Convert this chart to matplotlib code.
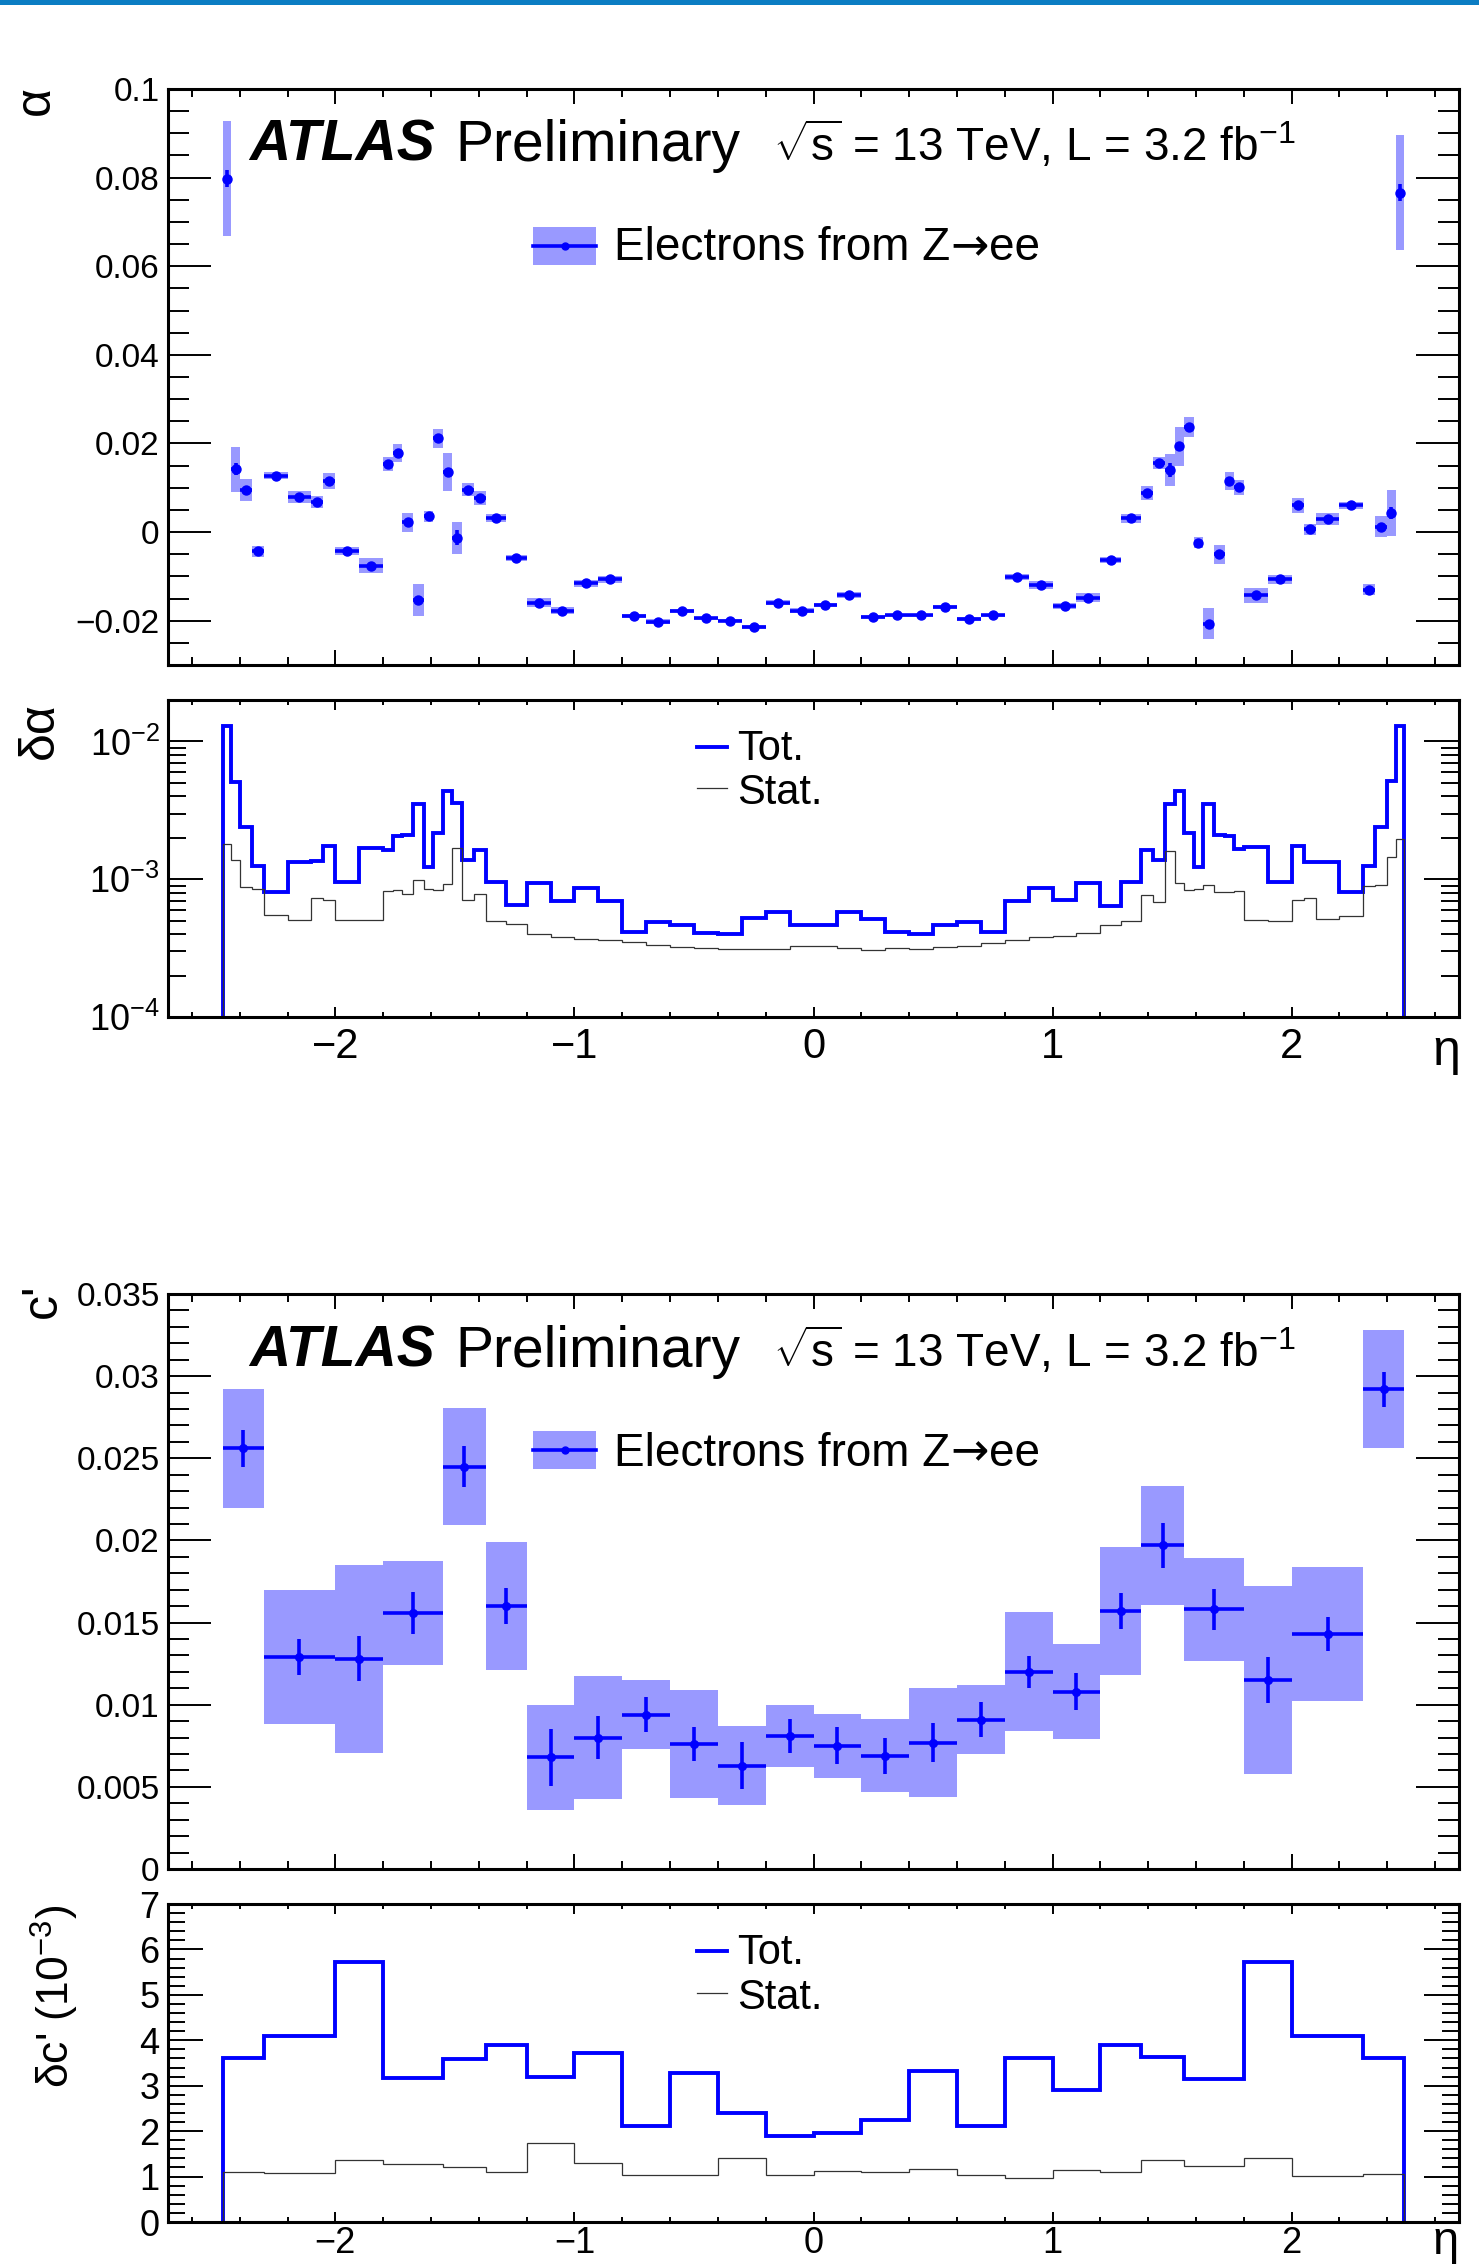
import numpy as np
import matplotlib
matplotlib.use("Agg")
import matplotlib.pyplot as plt
from matplotlib.patches import Rectangle
from matplotlib.ticker import MultipleLocator, LogLocator, NullFormatter, FuncFormatter

plt.rcParams['font.family'] = ['Liberation Sans', 'DejaVu Sans']
plt.rcParams['mathtext.fontset'] = 'custom'
plt.rcParams['mathtext.rm'] = 'Liberation Sans'
plt.rcParams['mathtext.it'] = 'Liberation Sans:italic'
plt.rcParams['mathtext.bf'] = 'Liberation Sans:bold'

W, H = 1479, 2268

# ---- alpha: 68 eta bins ----
alpha_edges = [-2.47, -2.435, -2.4, -2.35, -2.3, -2.2, -2.1, -2.05, -2.0, -1.9, -1.8,
               -1.76, -1.72, -1.675, -1.63, -1.59, -1.55, -1.51, -1.47, -1.42, -1.37,
               -1.285, -1.2, -1.1, -1.0, -0.9, -0.8, -0.7, -0.6, -0.5, -0.4, -0.3,
               -0.2, -0.1, 0.0, 0.1, 0.2, 0.3, 0.4, 0.5, 0.6, 0.7, 0.8, 0.9, 1.0,
               1.1, 1.2, 1.285, 1.37, 1.42, 1.47, 1.51, 1.55, 1.59, 1.63, 1.675,
               1.72, 1.76, 1.8, 1.9, 2.0, 2.05, 2.1, 2.2, 2.3, 2.35, 2.4, 2.435, 2.47]

alpha = [0.0798, 0.0142, 0.0095, -0.0043, 0.0127, 0.0079, 0.0067, 0.0115, -0.0043,
         -0.0076, 0.0154, 0.0179, 0.0022, -0.0153, 0.0036, 0.0212, 0.0136, -0.0013,
         0.0096, 0.0077, 0.0032, -0.0058, -0.0159, -0.0177, -0.0116, -0.0107, -0.0189,
         -0.0202, -0.0178, -0.0195, -0.0200, -0.0214, -0.0159, -0.0177, -0.0165,
         -0.0142, -0.0192, -0.0188, -0.0188, -0.0170, -0.0196, -0.0188, -0.0101,
         -0.0120, -0.0167, -0.0148, -0.0063, 0.0031, 0.0088, 0.0155, 0.0140, 0.0194,
         0.0237, -0.0024, -0.0207, -0.0050, 0.0116, 0.0101, -0.0143, -0.0107, 0.0060,
         0.0006, 0.0030, 0.0060, -0.0130, 0.0012, 0.0043, 0.0766]

dalpha_tot = [1.293e-2, 5.06e-3, 2.38e-3, 1.24e-3, 8.02e-4, 1.33e-3, 1.36e-3, 1.73e-3,
              9.48e-4, 1.68e-3, 1.64e-3, 2.05e-3, 2.10e-3, 3.54e-3, 1.22e-3, 2.17e-3,
              4.35e-3, 3.58e-3, 1.39e-3, 1.62e-3, 9.48e-4, 6.53e-4, 9.38e-4, 6.98e-4,
              8.63e-4, 6.90e-4, 4.17e-4, 4.88e-4, 4.62e-4, 4.06e-4, 4.02e-4, 5.19e-4,
              5.74e-4, 4.69e-4, 4.69e-4, 5.74e-4, 5.16e-4, 4.13e-4, 4.02e-4, 4.64e-4,
              4.86e-4, 4.11e-4, 6.90e-4, 8.63e-4, 7.10e-4, 9.38e-4, 6.35e-4, 9.48e-4,
              1.62e-3, 1.37e-3, 3.54e-3, 4.40e-3, 2.17e-3, 1.22e-3, 3.54e-3, 2.10e-3,
              2.05e-3, 1.67e-3, 1.70e-3, 9.48e-4, 1.73e-3, 1.33e-3, 1.33e-3, 8.02e-4,
              1.25e-3, 2.38e-3, 5.14e-3, 1.293e-2]

dalpha_stat = [1.81e-3, 1.39e-3, 8.72e-4, 8.53e-4, 5.52e-4, 5.07e-4, 7.26e-4, 7.06e-4,
               5.02e-4, 5.02e-4, 8.16e-4, 8.30e-4, 7.84e-4, 9.80e-4, 8.48e-4, 8.30e-4,
               9.28e-4, 1.69e-3, 7.02e-4, 7.80e-4, 4.94e-4, 4.72e-4, 4.02e-4, 3.78e-4,
               3.71e-4, 3.63e-4, 3.49e-4, 3.34e-4, 3.23e-4, 3.19e-4, 3.11e-4, 3.14e-4,
               3.14e-4, 3.27e-4, 3.30e-4, 3.16e-4, 3.09e-4, 3.16e-4, 3.14e-4, 3.23e-4,
               3.30e-4, 3.43e-4, 3.63e-4, 3.80e-4, 3.84e-4, 4.06e-4, 4.67e-4, 4.94e-4,
               7.63e-4, 6.86e-4, 1.61e-3, 9.38e-4, 8.30e-4, 8.53e-4, 9.12e-4, 8.02e-4,
               8.07e-4, 8.16e-4, 5.02e-4, 4.94e-4, 7.10e-4, 7.30e-4, 5.16e-4, 5.43e-4,
               8.87e-4, 9.02e-4, 1.45e-3, 1.96e-3]

# ---- c': 24 eta bins ----
c_edges = [-2.47, -2.3, -2.0, -1.8, -1.55, -1.37, -1.2, -1.0, -0.8, -0.6, -0.4, -0.2,
           0.0, 0.2, 0.4, 0.6, 0.8, 1.0, 1.2, 1.37, 1.55, 1.8, 2.0, 2.3, 2.47]

cprime = [0.0256, 0.0129, 0.0128, 0.0156, 0.0245, 0.0160, 0.0068, 0.0080, 0.0094,
          0.0076, 0.0063, 0.0081, 0.0075, 0.0069, 0.0077, 0.0091, 0.0120, 0.0108,
          0.0157, 0.0197, 0.0158, 0.0115, 0.0143, 0.0292]

# in units of 1e-3
dc_tot = [3.62, 4.10, 5.73, 3.16, 3.58, 3.90, 3.20, 3.72, 2.11, 3.29, 2.40, 1.89,
          1.95, 2.24, 3.33, 2.11, 3.62, 2.90, 3.90, 3.64, 3.15, 5.73, 4.10, 3.60]
dc_stat = [1.11, 1.07, 1.36, 1.27, 1.22, 1.09, 1.74, 1.30, 1.04, 1.04, 1.41, 1.03,
           1.13, 1.10, 1.16, 1.04, 0.96, 1.14, 1.11, 1.37, 1.23, 1.40, 1.02, 1.06]

BLUE = '#0000ff'
BAND = '#9999ff'


def px_axes(fig, x0, x1, y0, y1):
    return fig.add_axes([x0 / W, 1 - y1 / H, (x1 - x0) / W, (y1 - y0) / H])


def fmt_num(v, pos):
    s = '%g' % round(v, 6)
    return s.replace('-', '\u2212')


def style(ax, ylen, xlen, ysize, xsize=None, xpad=7):
    for sp in ax.spines.values():
        sp.set_linewidth(2.2)
    ax.tick_params(which='both', direction='in', top=True, right=True, width=1.4)
    ax.tick_params(axis='y', which='major', length=ylen[0], labelsize=ysize, pad=6)
    ax.tick_params(axis='y', which='minor', length=ylen[1])
    ax.tick_params(axis='x', which='major', length=xlen[0], pad=xpad)
    ax.tick_params(axis='x', which='minor', length=xlen[1])
    ax.set_xlim(-2.7, 2.7)
    ax.xaxis.set_major_locator(MultipleLocator(1))
    ax.xaxis.set_minor_locator(MultipleLocator(0.2))
    if xsize is None:
        ax.tick_params(axis='x', labelbottom=False)
    else:
        ax.tick_params(axis='x', labelsize=xsize)
        ax.xaxis.set_major_formatter(FuncFormatter(fmt_num))


def chain_text(ax, x, y, parts, size):
    # consecutive pieces of text on one baseline, each with its own font
    rend = fig.canvas.get_renderer()
    for s, fam in parts:
        t = ax.text(x, y, s, transform=ax.transAxes, fontsize=size,
                    family=fam, va='baseline')
        bb = t.get_window_extent(rend)
        x = ax.transAxes.inverted().transform((bb.x1, bb.y0))[0]


def atlas_label(ax, ybase):
    ax.text(0.0627, ybase, 'ATLAS', transform=ax.transAxes, fontsize=41,
            fontweight='bold', fontstyle='italic', va='baseline')
    ax.text(0.2223, ybase, 'Preliminary', transform=ax.transAxes, fontsize=41,
            va='baseline')
    ax.text(0.469, ybase, r'$\sqrt{\mathrm{s}}$ = 13 TeV, L = 3.2 fb$^{-1}$',
            transform=ax.transAxes, fontsize=33, va='baseline')


def legend_zee(ax, ycen, ybase):
    x0, x1 = (533 - 168) / 1291, (596 - 168) / 1291
    hh = 19 / (ax.get_position().height * H)
    ax.add_patch(Rectangle((x0, ycen - hh), x1 - x0, 2 * hh, transform=ax.transAxes,
                           color=BAND, lw=0))
    ax.plot([x0, x1], [ycen, ycen], transform=ax.transAxes, color=BLUE, lw=2.6)
    ax.plot([(x0 + x1) / 2], [ycen], 'o', transform=ax.transAxes, color=BLUE, ms=5)
    chain_text(ax, (614 - 168) / 1291, ybase,
               [('Electrons from Z', ['Liberation Sans']),
                ('\u2192', ['DejaVu Sans']),
                ('ee', ['Liberation Sans'])], 33)


def legend_err(ax):
    x0, x1 = (697 - 168) / 1291, (727 - 168) / 1291
    xt = (737 - 168) / 1291
    ax.plot([x0, x1], [0.853, 0.853], transform=ax.transAxes, color=BLUE, lw=2.8)
    ax.plot([x0, x1], [0.721, 0.721], transform=ax.transAxes, color='#333333', lw=0.9)
    ax.text(xt, 0.812, 'Tot.', transform=ax.transAxes, fontsize=30, va='baseline')
    ax.text(xt, 0.671, 'Stat.', transform=ax.transAxes, fontsize=30, va='baseline')


fig = plt.figure(figsize=(W / 100, H / 100), dpi=100)
fig.patches.append(Rectangle((0, 1 - 5 / H), 1, 5 / H, transform=fig.transFigure,
                             color='#0b7dc3', lw=0))

# ---------- panel 1: alpha ----------
e = np.array(alpha_edges)
cen = 0.5 * (e[:-1] + e[1:])
wid = np.diff(e)
a = np.array(alpha)
at = np.array(dalpha_tot)
ast = np.array(dalpha_stat)

ax1 = px_axes(fig, 168, 1459, 89, 665)
ax1.bar(cen, 2 * at, width=wid, bottom=a - at, color=BAND, lw=0)
ax1.errorbar(cen, a, xerr=wid / 2, yerr=ast, fmt='o', color=BLUE, ms=6.5,
             elinewidth=2.6, capsize=0)
ax1.set_ylim(-0.03, 0.1)
ax1.yaxis.set_major_locator(MultipleLocator(0.02))
ax1.yaxis.set_minor_locator(MultipleLocator(0.005))
ax1.yaxis.set_major_formatter(FuncFormatter(fmt_num))
style(ax1, (31, 15), (11, 5.5), 24)
atlas_label(ax1, 0.8755)
legend_zee(ax1, 0.727, 0.703)

# ---------- panel 2: delta alpha ----------
ax2 = px_axes(fig, 168, 1459, 700, 1017)
ax2.set_yscale('log')
ax2.stairs(at, e, baseline=1e-6, color=BLUE, lw=2.8)
ax2.stairs(ast, e, baseline=1e-6, color='#333333', lw=0.9)
ax2.set_ylim(1e-4, 0.02)
ax2.yaxis.set_major_locator(LogLocator(base=10))
ax2.yaxis.set_minor_locator(LogLocator(base=10, subs=np.arange(2, 10)))
ax2.yaxis.set_minor_formatter(NullFormatter())
style(ax2, (25, 13), (7, 3.4), 26, xsize=30)
legend_err(ax2)

# ---------- panel 3: c' ----------
ce = np.array(c_edges)
ccen = 0.5 * (ce[:-1] + ce[1:])
cwid = np.diff(ce)
c = np.array(cprime)
ct = np.array(dc_tot) * 1e-3
cs = np.array(dc_stat) * 1e-3

ax3 = px_axes(fig, 168, 1459, 1294, 1869)
ax3.bar(ccen, 2 * ct, width=cwid, bottom=c - ct, color=BAND, lw=0)
ax3.errorbar(ccen, c, xerr=cwid / 2, yerr=cs, fmt='o', color=BLUE, ms=5.5,
             elinewidth=2.6, capsize=0)
ax3.set_ylim(0, 0.035)
ax3.yaxis.set_major_locator(MultipleLocator(0.005))
ax3.yaxis.set_minor_locator(MultipleLocator(0.001))
ax3.yaxis.set_major_formatter(FuncFormatter(fmt_num))
style(ax3, (31, 15), (11, 5.5), 24)
atlas_label(ax3, 0.8736)
legend_zee(ax3, 0.7287, 0.7017)

# ---------- panel 4: delta c' ----------
ax4 = px_axes(fig, 168, 1459, 1904, 2222)
ax4.stairs(dc_tot, ce, baseline=0, color=BLUE, lw=2.8)
ax4.stairs(dc_stat, ce, baseline=0, color='#333333', lw=0.9)
ax4.set_ylim(0, 7)
ax4.yaxis.set_major_locator(MultipleLocator(1))
ax4.yaxis.set_minor_locator(MultipleLocator(0.2))
ax4.yaxis.set_major_formatter(FuncFormatter(fmt_num))
style(ax4, (25, 12), (7, 3.6), 26, xsize=26, xpad=3)
legend_err(ax4)

# axis titles
fig.text(36 / W, 1 - 86 / H, '\u03b1', rotation=90, ha='center', va='top', fontsize=36)
fig.text(40 / W, 1 - 702 / H, '\u03b4\u03b1', rotation=90, ha='center', va='top', fontsize=36)
fig.text(43 / W, 1 - 1284 / H, "c'", rotation=90, ha='center', va='top', fontsize=36)
fig.text(55 / W, 1 - 1905 / H, "\u03b4c' (10$^{-3}$)", rotation=90, ha='center',
         va='top', fontsize=32)
fig.text(1446 / W, 1 - 1052 / H, '\u03b7', ha='center', va='center', fontsize=36)
fig.text(1446 / W, 1 - 2242 / H, '\u03b7', ha='center', va='center', fontsize=34)

fig.savefig('out.png', dpi=100)
